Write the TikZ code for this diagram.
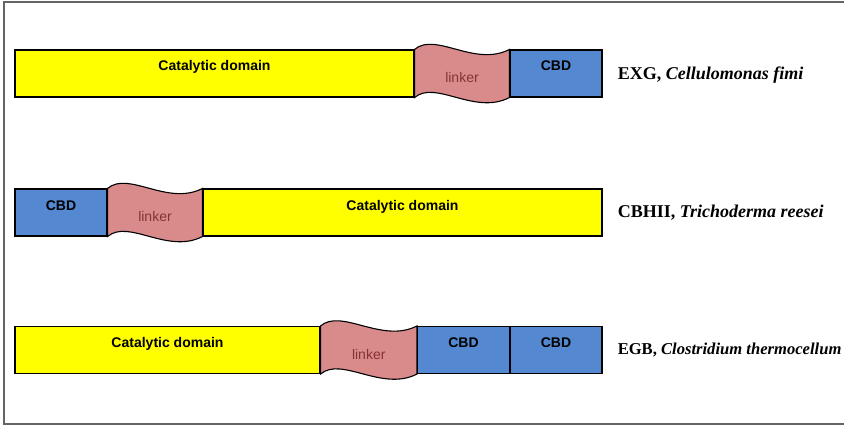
\documentclass[tikz,border=0pt]{standalone}
\usepackage{fontspec}
\setmainfont{Liberation Serif}
\newfontfamily\arialfont{Liberation Sans}
\usetikzlibrary{positioning,calc}
\definecolor{cdyellow}{RGB}{255,255,0}
\definecolor{cbdblue}{RGB}{84,137,210}
\definecolor{linkerpink}{RGB}{217,139,139}
\definecolor{linkerred}{RGB}{135,50,50}
\definecolor{framegray}{RGB}{100,100,100}

\begin{document}
\begin{tikzpicture}
[x=1pt,y=-1pt,
  domaindecorate/.style={shape=rectangle,draw,line width=1.1pt,minimum height=47pt,inner sep=0pt,%
    text height=9pt,text depth=14pt,font=\arialfont\bfseries\fontsize{14}{16}\selectfont},
  catdecorate/.style={domaindecorate,fill=cdyellow},
  cbddecorate/.style={domaindecorate,fill=cbdblue,minimum width=92pt},
  linkerdecorate/.style={draw,line width=1.1pt,fill=linkerpink},
  linkertextdecorate/.style={font=\arialfont\fontsize{14}{16}\selectfont,text=linkerred},
  namedecorate/.style={inner xsep=0pt,font=\fontsize{18}{21}\selectfont\bfseries}]
\useasboundingbox (0,0) rectangle (844,428);
%% outer frame
\draw[framegray,line width=1.5pt] (844,2) -| (4,424) -- (844,424);
%% catalytic domains
\foreach \nodename/\x/\y/\w in {cat1/214.5/73.5/399, cat2/402.5/212.5/399, cat3/167.5/350/305} {
  \node (\nodename) at (\x,\y) [catdecorate,minimum width=\w pt] {Catalytic domain};
}
%% binding domains
\foreach \nodename/\x/\y in {cbd1/556/73.5, cbd2/61/212.5, cbd3/463.5/350, cbd4/556/350} {
  \node (\nodename) at (\x,\y) [cbddecorate] {CBD};
}
%% linkers between the domains
\foreach \startnode/\endnode/\lname in {cat1/cbd1/lnk1, cbd2/cat2/lnk2, cat3/cbd3/lnk3} {
  \path[linkerdecorate] (\startnode.north east) .. controls +(21,-18) and +(-35,18) .. (\endnode.north west)
    -- (\endnode.south west) .. controls +(-35,18) and +(21,-18) .. (\startnode.south east) -- cycle;
  \node (\lname) at ($(\startnode.east)!0.5!(\endnode.west)+(0,4)$) [linkertextdecorate] {linker};
}
%% enzyme names
\node (name1) [namedecorate,right=15pt of cbd1,yshift=-2pt] {EXG, \textit{Cellulomonas fimi}};
\node (name2) [namedecorate,right=15pt of cat2] {CBHII, \textit{Trichoderma reesei}};
\node (name3) [namedecorate,right=15pt of cbd4,font=\fontsize{16.6}{20}\selectfont\bfseries] {EGB, \textit{Clostridium thermocellum}};
\end{tikzpicture}
\end{document}
